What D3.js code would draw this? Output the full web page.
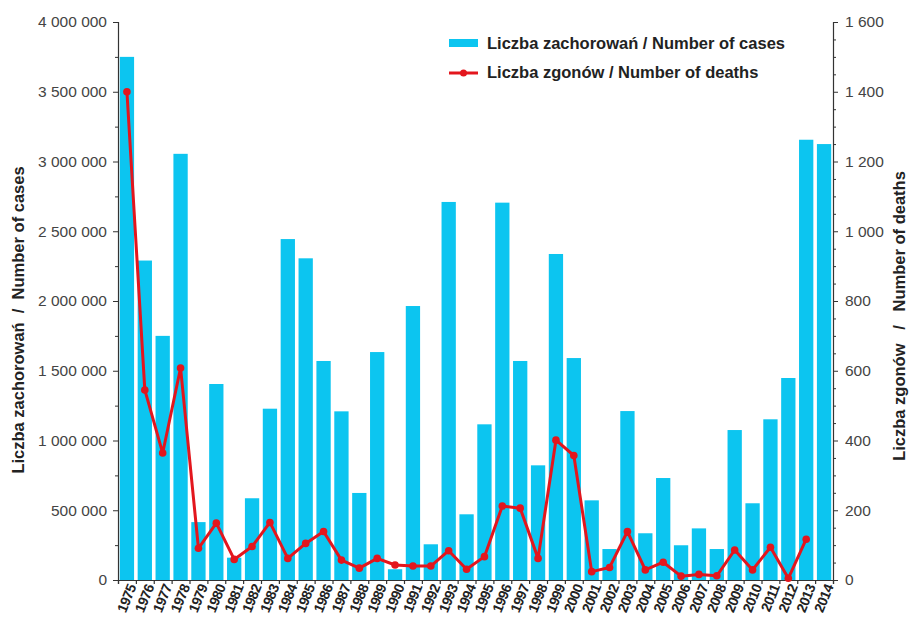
<!DOCTYPE html>
<html>
<head>
<meta charset="utf-8">
<script src="https://cdn.jsdelivr.net/npm/d3@7/dist/d3.min.js"></script>
<style>
  html, body { margin: 0; padding: 0; background: #fff; }
  svg { display: block; font-family: Arial, "Liberation Sans", sans-serif; }
</style>
</head>
<body>
<div id="chart"></div>
<script>
const years = d3.range(1975, 2015);

// number of cases per year (left axis)
const cases = [
  3750000, 2290000, 1750000, 3055000, 415000, 1405000, 160000, 586000, 1228000, 2444000,
  2306000, 1570000, 1209000, 624000, 1634000, 77000, 1964000, 256000, 2710000, 471000,
  1116000, 2705000, 1570000, 822000, 2337000, 1591000, 571000, 222000, 1211000, 335000,
  731000, 249000, 370000, 222000, 1075000, 550000, 1152000, 1448000, 3156000, 3125000
];

// number of deaths per year (right axis), no value for 2014
const deaths = [
  1400, 545, 364, 608, 91, 163, 59, 96, 165, 62,
  105, 139, 57, 34, 62, 43, 40, 40, 84, 31,
  67, 212, 206, 62, 401, 357, 24, 36, 139, 29,
  51, 11, 16, 12, 86, 29, 94, 5, 117, null
];

const leftTicks = d3.range(0, 4000001, 500000);
const leftMinor = d3.range(250000, 4000000, 500000);
const rightTicks = d3.range(0, 1601, 200);
const rightMinor = d3.range(0, 1601, 50).filter(v => v % 200 !== 0);

const COLORS = { bar: '#0cc5f0', line: '#e3161d', ink: '#222', axis: '#333', label: '#444' };

const W = 910, H = 619;
const M = { left: 118, right: 833, top: 22, bottom: 580 };

const svg = d3.select('#chart').append('svg')
  .attr('width', W).attr('height', H)
  .attr('viewBox', `0 0 ${W} ${H}`);

const x = d3.scaleBand().domain(years).range([M.left, M.right])
  .paddingInner(0.2).paddingOuter(0.1);
const xEdge = d3.scaleLinear().domain([0, years.length]).range([M.left, M.right]);
const yL = d3.scaleLinear().domain([0, 4000000]).range([M.bottom, M.top]);
const yR = d3.scaleLinear().domain([0, 1600]).range([M.bottom, M.top]);

const spaced = v => d3.format(',')(v).replace(/,/g, ' ');

// bars
svg.append('g').selectAll('rect').data(years).join('rect')
  .attr('x', d => x(d))
  .attr('y', (d, i) => yL(cases[i]))
  .attr('width', x.bandwidth())
  .attr('height', (d, i) => yL(0) - yL(cases[i]))
  .attr('fill', COLORS.bar);

// left axis
const gL = svg.append('g').attr('transform', `translate(${M.left},0)`)
  .call(d3.axisLeft(yL).tickValues(leftTicks).tickSize(5).tickPadding(6).tickFormat(spaced));
svg.append('g').attr('transform', `translate(${M.left},0)`)
  .call(d3.axisLeft(yL).tickValues(leftMinor).tickSize(3).tickFormat(''))
  .select('.domain').remove();

// right axis
const gR = svg.append('g').attr('transform', `translate(${M.right},0)`)
  .call(d3.axisRight(yR).tickValues(rightTicks).tickSize(5).tickPadding(7).tickFormat(spaced));
svg.append('g').attr('transform', `translate(${M.right},0)`)
  .call(d3.axisRight(yR).tickValues(rightMinor).tickSize(3).tickFormat(''))
  .select('.domain').remove();

[gL, gR].forEach(g => {
  g.selectAll('text').attr('font-size', 15.5).attr('fill', COLORS.label)
    .attr('font-family', 'Arial, "Liberation Sans", sans-serif');
});
svg.selectAll('.domain').attr('stroke', COLORS.axis).attr('stroke-width', 1.2);
svg.selectAll('.tick line').attr('stroke', COLORS.axis);

// bottom axis: ticks at band edges, labels at band centres
svg.append('g').attr('transform', `translate(0,${M.bottom})`)
  .call(d3.axisBottom(xEdge).ticks(years.length).tickSize(4).tickFormat(''))
  .call(g => g.selectAll('line, path').attr('stroke', COLORS.axis).attr('stroke-width', 1.2));

const gX = svg.append('g').attr('transform', `translate(0,${M.bottom})`)
  .call(d3.axisBottom(x).tickSize(0).tickPadding(0));
gX.select('.domain').remove();
gX.selectAll('text')
  .attr('font-size', 14).attr('font-weight', 'bold').attr('fill', COLORS.ink)
  .attr('letter-spacing', -0.6)
  .attr('text-anchor', 'end')
  .attr('transform', 'translate(5,5) rotate(-68)')
  .attr('dy', '0.35em');

// deaths line
const pts = years.map((yr, i) => ({ yr, v: deaths[i] })).filter(d => d.v != null);
const line = d3.line().x(d => x(d.yr) + x.bandwidth() / 2).y(d => yR(d.v));
svg.append('path').datum(pts)
  .attr('d', line)
  .attr('fill', 'none').attr('stroke', COLORS.line)
  .attr('stroke-width', 3).attr('stroke-linejoin', 'round');
svg.append('g').selectAll('circle').data(pts).join('circle')
  .attr('cx', d => x(d.yr) + x.bandwidth() / 2)
  .attr('cy', d => yR(d.v))
  .attr('r', 3.8)
  .attr('fill', COLORS.line);

// axis titles
svg.append('text')
  .attr('transform', 'translate(24,320) rotate(-90)')
  .attr('text-anchor', 'middle')
  .attr('font-size', 16.5).attr('font-weight', 'bold').attr('fill', COLORS.ink)
  .attr('xml:space', 'preserve')
  .text('Liczba zachorowań  /  Number of cases');
svg.append('text')
  .attr('transform', 'translate(905,316) rotate(-90)')
  .attr('text-anchor', 'middle')
  .attr('font-size', 16.5).attr('font-weight', 'bold').attr('fill', COLORS.ink)
  .attr('xml:space', 'preserve')
  .text('Liczba zgonów   /   Number of deaths');

// legend
const legend = svg.append('g').attr('transform', 'translate(449,0)');
legend.append('rect').attr('x', 0).attr('y', 39).attr('width', 29).attr('height', 8).attr('fill', COLORS.bar);
legend.append('line').attr('x1', 0).attr('x2', 29).attr('y1', 73).attr('y2', 73)
  .attr('stroke', COLORS.line).attr('stroke-width', 3);
legend.append('circle').attr('cx', 14.5).attr('cy', 73).attr('r', 3.5).attr('fill', COLORS.line);
legend.selectAll('text.lg')
  .data(['Liczba zachorowań / Number of cases', 'Liczba zgonów / Number of deaths'])
  .join('text').attr('class', 'lg')
  .attr('x', 38).attr('y', (d, i) => 49 + i * 29)
  .attr('font-size', 16.5).attr('font-weight', 'bold').attr('fill', COLORS.ink)
  .text(d => d);
</script>
</body>
</html>
